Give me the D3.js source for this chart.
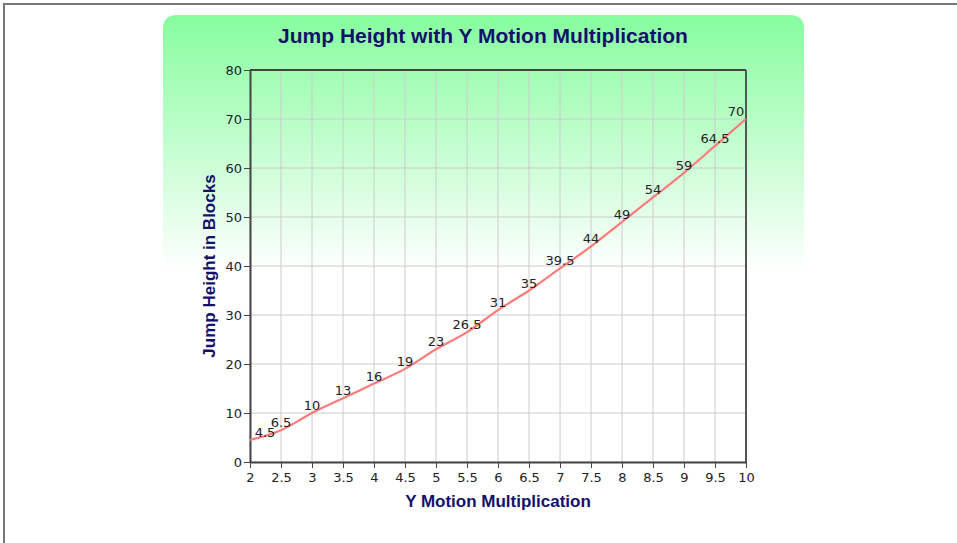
<!DOCTYPE html>
<html>
<head>
<meta charset="utf-8">
<script src="https://cdn.jsdelivr.net/npm/d3@7"></script>
<style>
  body { margin: 0; background: #fff; }
  svg { display: block; font-family: "Liberation Sans", Arial, sans-serif; }
</style>
</head>
<body>
<svg id="chart" width="957" height="543"></svg>
<script>
// data
const motionMultipliers = [2, 2.5, 3, 3.5, 4, 4.5, 5, 5.5, 6, 6.5, 7, 7.5, 8, 8.5, 9, 9.5, 10];
const jumpHeights = [4.5, 6.5, 10, 13, 16, 19, 23, 26.5, 31, 35, 39.5, 44, 49, 54, 59, 64.5, 70];
const xTicks = [2, 2.5, 3, 3.5, 4, 4.5, 5, 5.5, 6, 6.5, 7, 7.5, 8, 8.5, 9, 9.5, 10];
const yTicks = [0, 10, 20, 30, 40, 50, 60, 70, 80];

const margin = { top: 70, right: 211, bottom: 81, left: 250 },
    width = 957 - margin.left - margin.right,
    height = 543 - margin.top - margin.bottom;

const labelFont = "DejaVu Sans, sans-serif";

const svg = d3.select("#chart");

// page frame
svg.append("path")
    .attr("d", "M4,543 L4,4 L957,4")
    .attr("fill", "none")
    .attr("stroke", "#777")
    .attr("stroke-width", 2);

// green gradient panel behind the title
const defs = svg.append("defs");
const grad = defs.append("linearGradient")
    .attr("id", "panelGrad")
    .attr("x1", 0).attr("y1", 0).attr("x2", 0).attr("y2", 1);
grad.append("stop").attr("offset", "0%").attr("stop-color", "#86fd9e");
grad.append("stop").attr("offset", "100%").attr("stop-color", "#ffffff");

svg.append("path")
    .attr("d", "M163,272 L163,29 Q163,15 177,15 L790,15 Q804,15 804,29 L804,272 Z")
    .attr("fill", "url(#panelGrad)");

svg.append("text")
    .attr("x", 483)
    .attr("y", 43)
    .attr("text-anchor", "middle")
    .attr("font-size", 21)
    .attr("font-weight", "bold")
    .attr("fill", "#13116b")
    .text("Jump Height with Y Motion Multiplication");

const x = d3.scaleLinear().domain([2, 10]).range([0, width]);
const y = d3.scaleLinear().domain([0, 80]).range([height, 0]);

const g = svg.append("g")
    .attr("transform", "translate(" + margin.left + "," + margin.top + ")");

// grid
g.append("g").selectAll("line")
    .data(xTicks)
    .enter().append("line")
    .attr("x1", d => x(d)).attr("x2", d => x(d))
    .attr("y1", 0).attr("y2", height)
    .attr("stroke", "#cccccc");

g.append("g").selectAll("line")
    .data(yTicks)
    .enter().append("line")
    .attr("x1", 0).attr("x2", width)
    .attr("y1", d => y(d)).attr("y2", d => y(d))
    .attr("stroke", "#cccccc");

// frame lines top/right
g.append("line").attr("x1", 0).attr("x2", width).attr("y1", 0).attr("y2", 0)
    .attr("stroke", "#111").attr("stroke-width", 1.5);
g.append("line").attr("x1", width).attr("x2", width).attr("y1", 0).attr("y2", height)
    .attr("stroke", "#555").attr("stroke-width", 2);

// axes
const xAxis = g.append("g")
    .attr("transform", "translate(0," + height + ")")
    .call(d3.axisBottom(x).tickValues(xTicks).tickSize(6).tickSizeOuter(0).tickFormat(d3.format("")));
const yAxis = g.append("g")
    .call(d3.axisLeft(y).tickValues(yTicks).tickSize(6).tickSizeOuter(0));

[xAxis, yAxis].forEach(function (a) {
    a.select(".domain").attr("stroke", "#444").attr("stroke-width", 2);
    a.selectAll(".tick line").attr("stroke", "#444");
    a.selectAll(".tick text")
        .attr("font-family", labelFont)
        .attr("font-size", 13)
        .attr("fill", "#222");
});
xAxis.selectAll(".tick text").attr("dy", "0.85em");
yAxis.selectAll(".tick text").attr("dy", "0.35em").attr("x", -8);

// line
const data = motionMultipliers.map((m, i) => ({ m: m, h: jumpHeights[i] }));

g.append("path")
    .datum(data)
    .attr("fill", "none")
    .attr("stroke", "#ff7b7b")
    .attr("stroke-width", 2.2)
    .attr("d", d3.line()
        .x(d => x(d.m))
        .y(d => y(d.h))
        .curve(d3.curveMonotoneX));

// value labels
g.append("g").selectAll("text")
    .data(data)
    .enter().append("text")
    .attr("x", function (d) {
        const px = x(d.m);
        return Math.min(Math.max(px, 15), width - 10);
    })
    .attr("y", d => y(d.h) - 3)
    .attr("text-anchor", "middle")
    .attr("font-family", labelFont)
    .attr("font-size", 13)
    .attr("fill", "#222")
    .text(d => d.h);

// axis titles
svg.append("text")
    .attr("x", margin.left + width / 2)
    .attr("y", 507)
    .attr("text-anchor", "middle")
    .attr("font-size", 17)
    .attr("font-weight", "bold")
    .attr("fill", "#13116b")
    .text("Y Motion Multiplication");

svg.append("text")
    .attr("transform", "translate(215," + (margin.top + height / 2) + ") rotate(-90)")
    .attr("text-anchor", "middle")
    .attr("font-size", 17)
    .attr("font-weight", "bold")
    .attr("fill", "#13116b")
    .text("Jump Height in Blocks");
</script>
</body>
</html>
